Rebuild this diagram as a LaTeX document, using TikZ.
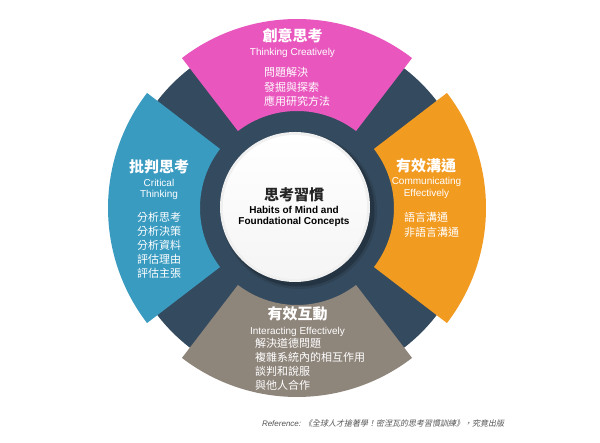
\documentclass[tikz,border=0pt]{standalone}
\usepackage{fontspec}
\setmainfont{Liberation Sans}
\newfontfamily\cjk{Noto Sans CJK TC}
\newfontfamily\cjkit{Noto Sans CJK TC}[FakeSlant=0.2]
\usetikzlibrary{calc}
\definecolor{pinkc}{HTML}{E957BE}
\definecolor{bluec}{HTML}{3A9BC1}
\definecolor{orangec}{HTML}{F29B21}
\definecolor{brownc}{HTML}{8E857B}
\definecolor{darkc}{HTML}{344A5E}
\definecolor{refc}{HTML}{555555}
\begin{document}
\begin{tikzpicture}[x=1pt,y=1pt,
  every node/.style={inner sep=0pt, outer sep=0pt},
  segtitle/.style={text=white, font=\cjk\bfseries\fontsize{15}{18}\selectfont},
  segsub/.style={text=white, font=\fontsize{10}{12}\selectfont},
  item/.style={text=white, anchor=base west, font=\cjk\fontsize{11}{13}\selectfont},
  ctitle/.style={text=black!85, font=\cjk\bfseries\fontsize{15}{18}\selectfont},
  csub/.style={text=black, font=\bfseries\fontsize{10}{12}\selectfont}]
\useasboundingbox (0,0) rectangle (600,443);
\fill[white] (0,0) rectangle (600,443);
\coordinate (C) at (297,235);
% dark ring
\fill[darkc] (C) circle[radius=176pt];
% coloured segments
\foreach \ang/\col in {90/pinkc,180/bluec,270/brownc,0/orangec}{
  \fill[\col] ([shift={(\ang-37.5:189pt)}]C)
     arc[start angle=\ang-37.5, end angle=\ang+37.5, radius=189pt]
     -- ([shift={(\ang+37.5:97pt)}]C)
     arc[start angle=\ang+37.5, end angle=\ang-37.5, radius=97pt] -- cycle;
}
% centre disc
\fill[black, opacity=0.10] ([shift={(2pt,-3pt)}]C) circle[radius=78pt];
\fill[black, opacity=0.20] ([shift={(1.5pt,-2.5pt)}]C) circle[radius=76pt];
\shade[inner color=white, outer color=gray!12] ([shift={(-2pt,1pt)}]C) circle[radius=75pt];
\shade[top color=white, bottom color=gray!8] ([shift={(-2pt,1pt)}]C) circle[radius=72pt];
% centre text
\node[ctitle] (ct) at (294,248) {思考習慣};
\node[csub] (cs1) at (294,233) {Habits of Mind and};
\node[csub] (cs2) at (294,221) {Foundational Concepts};
% pink
\node[segtitle] (pt) at (292.5,407) {創意思考};
\node[segsub] (ps) at (292.5,390) {Thinking Creatively};
\foreach \t [count=\i] in {問題解決,發掘與探索,應用研究方法}
  \node[item] (pi\i) at (264,{366-14.2*(\i-1)}) {\t};
% blue
\node[segtitle] (bt) at (159,276) {批判思考};
\node[segsub] (bs1) at (159,260) {Critical};
\node[segsub] (bs2) at (159,248) {Thinking};
\foreach \t [count=\i] in {分析思考,分析決策,分析資料,評估理由,評估主張}
  \node[item] (bi\i) at (137,{221-13.8*(\i-1)}) {\t};
% orange
\node[segtitle] (ot) at (426,277) {有效溝通};
\node[segsub] (os1) at (426.5,261) {Communicating};
\node[segsub] (os2) at (426.5,249) {Effectively};
\foreach \t [count=\i] in {語言溝通,非語言溝通}
  \node[item] (oi\i) at (404,{221-14.5*(\i-1)}) {\t};
% brown
\node[segtitle] (wt) at (297.5,129) {有效互動};
\node[segsub] (ws) at (297.5,111) {Interacting Effectively};
\foreach \t [count=\i] in {解決道德問題,複雜系統內的相互作用,談判和說服,與他人合作}
  \node[item] (wi\i) at (255,{95-13.7*(\i-1)}) {\t};
% reference
\node[anchor=west, text=refc, font=\fontsize{8}{10}\selectfont] (ref) at (262,20)
  {\itshape Reference: {\cjkit 《全球人才搶著學！密涅瓦的思考習慣訓練》，究竟出版}};
\end{tikzpicture}
\end{document}
